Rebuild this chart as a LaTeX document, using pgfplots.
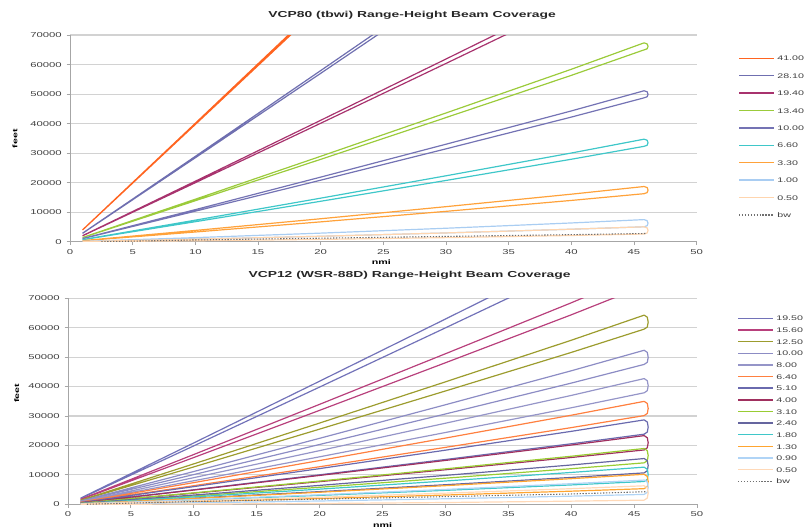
\documentclass[border=0pt]{standalone}
\usepackage{fontspec}
\setmainfont{Liberation Sans}[FakeStretch=1.6]
\usepackage{pgfplots}
\pgfplotsset{compat=1.18}

\definecolor{cA}{HTML}{FF6420}
\definecolor{cB}{HTML}{6F6FB0}
\definecolor{cC}{HTML}{A8336E}
\definecolor{cD}{HTML}{9BCB3B}
\definecolor{cE}{HTML}{7473B4}
\definecolor{cF}{HTML}{3FC7C9}
\definecolor{cG}{HTML}{FFA23A}
\definecolor{cH}{HTML}{A9CDF2}
\definecolor{cI}{HTML}{FFD5AE}
\definecolor{cbw}{HTML}{707070}

\definecolor{b195}{HTML}{7272B8}
\definecolor{b156}{HTML}{B8407C}
\definecolor{b125}{HTML}{9C9C2E}
\definecolor{b100}{HTML}{8C8CC4}
\definecolor{b80}{HTML}{9595C8}
\definecolor{b64}{HTML}{FF8040}
\definecolor{b51}{HTML}{6A6AAE}
\definecolor{b40}{HTML}{A0305F}
\definecolor{b31}{HTML}{99CC33}
\definecolor{b24}{HTML}{65659F}
\definecolor{b18}{HTML}{3FC7C9}
\definecolor{b13}{HTML}{FFA530}
\definecolor{b09}{HTML}{B0D4F6}
\definecolor{b05}{HTML}{FFD9B8}

\newcommand\tickfont{\fontsize{5.3pt}{6pt}\selectfont}
\newcommand\legfont{\fontsize{5pt}{6pt}\selectfont}

\pgfplotsset{
  beamaxis/.style={
    scale only axis,
    xmin=0, xmax=50, ymin=0, ymax=70000,
    xtick={0,5,...,50},
    ytick={0,10000,...,70000},
    axis x line=bottom, axis y line=left,
    axis line style={-, draw=gray!70, line width=0.7pt},
    tick align=outside,
    major tick length=2.5pt,
    tick style={draw=gray!70, line width=0.6pt},
    ymajorgrids,
    major grid style={draw=gray!35, line width=0.9pt},
    scaled y ticks=false,
    /pgf/number format/assume math mode=true,
    yticklabel style={/pgf/number format/1000 sep={}, font=\tickfont, inner sep=0pt, xshift=-3.5pt, text=black!75},
    xticklabel style={font=\tickfont, inner sep=0pt, yshift=-3pt, text=black!75},
    no markers,
    every axis plot/.append style={line width=0.9pt, line join=round},
    xlabel={nmi}, ylabel={feet},
    xlabel style={font=\fontsize{5pt}{6pt}\selectfont\bfseries, anchor=center},
    ylabel style={font=\fontsize{5pt}{6pt}\selectfont\bfseries, anchor=center},
    title style={font=\fontsize{6.5pt}{7pt}\selectfont\bfseries, anchor=center, text=black!85},
    legend cell align=left,
    legend image code/.code={\draw[#1,line width=1.1pt] (0pt,0pt) -- (26pt,0pt);},
  }
}

\begin{document}
\begin{tikzpicture}
\useasboundingbox (0pt,0pt) rectangle (603pt,-396.75pt);

% ---------------- top panel ----------------
\begin{axis}[beamaxis,
  at={(52.5pt,-181.3pt)}, anchor=south west,
  width=470pt, height=155pt,
  title={VCP80 (tbwi) Range-Height Beam Coverage},
  title style={at={(axis description cs:0.546,1.058)}},
  xlabel style={at={(axis description cs:0.497,-0.0997)}},
  ylabel style={at={(axis description cs:-0.0877,0.498)}},
  legend style={at={(axis description cs:1.066,0.902)}, anchor=north west,
    draw=none, fill=none, inner sep=0pt, row sep=9.05pt, column sep=2.2pt,
    font=\legfont, text=black!75,
    nodes={inner sep=0pt, text height=4pt, text depth=0pt}},
]
\addplot[color=cA] coordinates {(1,3967)(10,39728)(20,79589)(20,80389)(10,40128)(1,4007)};
\addlegendentry{41.00}
\addplot[color=cB] coordinates {(1,2839)(10,28450)(20,57033)(30,85748)(30,87152)(20,57969)(10,28918)(1,2886)};
\addlegendentry{28.10}
\addplot[color=cC] coordinates {(1,1994)(10,19998)(20,40129)(30,60392)(40,80788)(40,82788)(30,61892)(20,41129)(10,20498)(1,2044)};
\addlegendentry{19.40}
\addplot[color=cD] coordinates {(1,1383)(10,13889)(20,27911)(30,42065)(40,56352)(45.8,64987)(46.05,65343)(46.12,66174)(46.05,67004)(45.8,67360)(40,58416)(30,43613)(20,28943)(10,14405)(1,1435)};
\addlegendentry{13.40}
\addplot[color=cE] coordinates {(1,1030)(10,10356)(20,20845)(30,31466)(40,42220)(45.8,48735)(46.05,49095)(46.12,49936)(46.05,50776)(45.8,51136)(40,44308)(30,33032)(20,21889)(10,10878)(1,1082)};
\addlegendentry{10.00}
\addplot[color=cF] coordinates {(1,673)(10,6786)(20,13705)(30,20756)(40,27940)(45.8,32313)(46.05,32677)(46.12,33525)(46.05,34373)(45.8,34737)(40,30048)(30,22337)(20,14759)(10,7313)(1,725)};
\addlegendentry{6.60}
\addplot[color=cG] coordinates {(1,324)(10,3299)(20,6731)(30,10295)(40,13992)(45.8,16273)(46.05,16638)(46.12,17490)(46.05,18341)(45.8,18706)(40,16108)(30,11882)(20,7789)(10,3828)(1,377)};
\addlegendentry{3.30}
\addplot[color=cH] coordinates {(1,80)(10,861)(20,1855)(30,2981)(40,4240)(45.8,5058)(46.05,5424)(46.12,6277)(46.05,7130)(45.8,7496)(40,6360)(30,4571)(20,2915)(10,1391)(1,133)};
\addlegendentry{1.00}
\addplot[color=cI] coordinates {(1,27)(10,331)(20,795)(30,1391)(40,2120)(45.8,2620)(46.05,2986)(46.12,3839)(46.05,4692)(45.8,5058)(40,4240)(30,2981)(20,1855)(10,861)(1,80)};
\addlegendentry{0.50}
\addplot[color=cbw, line width=0.8pt, dash pattern=on 1pt off 1.2pt] coordinates {(2.5,0)(10,600)(20,1200)(30,1800)(40,2400)(46,2800)};
\addlegendentry{bw}
\end{axis}

% ---------------- bottom panel ----------------
\begin{axis}[beamaxis,
  at={(51pt,-378.2pt)}, anchor=south west,
  width=471.75pt, height=154.5pt,
  title={VCP12 (WSR-88D) Range-Height Beam Coverage},
  title style={at={(axis description cs:0.543,1.074)}},
  xlabel style={at={(axis description cs:0.5,-0.1)}},
  ylabel style={at={(axis description cs:-0.0816,0.539)}},
  legend style={at={(axis description cs:1.0636,0.917)}, anchor=north west,
    draw=none, fill=none, inner sep=0pt, row sep=4.73pt, column sep=2.2pt,
    font=\legfont, text=black!75,
    nodes={inner sep=0pt, text height=4pt, text depth=0pt}},
]
\addplot[color=b195] coordinates {(1,1979)(10,19848)(20,39829)(30,59942)(40,80188)(40,84184)(30,62939)(20,41827)(10,20847)(1,2079)};
\addlegendentry{19.50}
\addplot[color=b156] coordinates {(1,1584)(10,15894)(20,31921)(30,48080)(40,64372)(45.8,74210)(45.8,78906)(40,68456)(30,51143)(20,33963)(10,16915)(1,1686)};
\addlegendentry{15.60}
\addplot[color=b125] coordinates {(1,1264)(10,12699)(20,25531)(30,38495)(40,51592)(45.8,59513)(46.05,60227)(46.12,61894)(46.05,63560)(45.8,64274)(40,55732)(30,41600)(20,27601)(10,13734)(1,1368)};
\addlegendentry{12.50}
\addplot[color=b100] coordinates {(1,1004)(10,10094)(20,20321)(30,30680)(40,41172)(45.8,47530)(46.05,48251)(46.12,49934)(46.05,51616)(45.8,52337)(40,45352)(30,33815)(20,22411)(10,11139)(1,1108)};
\addlegendentry{10.00}
\addplot[color=b80] coordinates {(1,794)(10,7997)(20,16127)(30,24389)(40,32784)(45.8,37884)(46.05,38609)(46.12,40299)(46.05,41989)(45.8,42714)(40,36984)(30,27539)(20,18227)(10,9047)(1,899)};
\addlegendentry{8.00}
\addplot[color=b64] coordinates {(1,625)(10,6312)(20,12757)(30,19334)(40,26044)(45.8,30133)(46.05,30859)(46.12,32555)(46.05,34250)(45.8,34976)(40,30256)(30,22493)(20,14863)(10,7365)(1,731)};
\addlegendentry{6.40}
\addplot[color=b51] coordinates {(1,488)(10,4939)(20,10011)(30,15215)(40,20552)(45.8,23817)(46.05,24546)(46.12,26246)(46.05,27945)(45.8,28674)(40,24776)(30,18383)(20,12123)(10,5995)(1,594)};
\addlegendentry{5.10}
\addplot[color=b40] coordinates {(1,372)(10,3775)(20,7683)(30,11723)(40,15896)(45.8,18462)(46.05,19192)(46.12,20896)(46.05,22599)(45.8,23329)(40,20128)(30,14897)(20,9799)(10,4833)(1,477)};
\addlegendentry{4.00}
\addplot[color=b31] coordinates {(1,276)(10,2822)(20,5777)(30,8864)(40,12084)(45.8,14079)(46.05,14810)(46.12,16515)(46.05,18219)(45.8,18950)(40,16320)(30,12041)(20,7895)(10,3881)(1,382)};
\addlegendentry{3.10}
\addplot[color=b24] coordinates {(1,202)(10,2081)(20,4295)(30,6641)(40,9120)(45.8,10670)(46.05,11401)(46.12,13106)(46.05,14810)(45.8,15541)(40,13356)(30,9818)(20,6413)(10,3140)(1,308)};
\addlegendentry{2.40}
\addplot[color=b18] coordinates {(1,139)(10,1444)(20,3021)(30,4730)(40,6572)(45.8,7740)(46.05,8471)(46.12,10178)(46.05,11885)(45.8,12616)(40,10812)(30,7910)(20,5141)(10,2504)(1,245)};
\addlegendentry{1.80}
\addplot[color=b13] coordinates {(1,86)(10,914)(20,1961)(30,3140)(40,4452)(45.8,5302)(46.05,6034)(46.12,7742)(46.05,9450)(45.8,10182)(40,8696)(30,6323)(20,4083)(10,1975)(1,192)};
\addlegendentry{1.30}
\addplot[color=b09] coordinates {(1,43)(10,490)(20,1113)(30,1868)(40,2756)(45.8,3351)(46.05,4082)(46.12,5789)(46.05,7496)(45.8,8227)(40,6996)(30,5048)(20,3233)(10,1550)(1,149)};
\addlegendentry{0.90}
\addplot[color=b05] coordinates {(1,1)(10,66)(20,265)(30,596)(40,1060)(45.8,1401)(46.05,2132)(46.12,3839)(46.05,5546)(45.8,6277)(40,5300)(30,3776)(20,2385)(10,1126)(1,107)};
\addlegendentry{0.50}
\addplot[color=cbw, line width=0.8pt, dash pattern=on 1pt off 1.2pt] coordinates {(1.5,0)(10,950)(20,1750)(30,2600)(40,3500)(46,4280)};
\addlegendentry{bw}
\end{axis}
\end{tikzpicture}
\end{document}
